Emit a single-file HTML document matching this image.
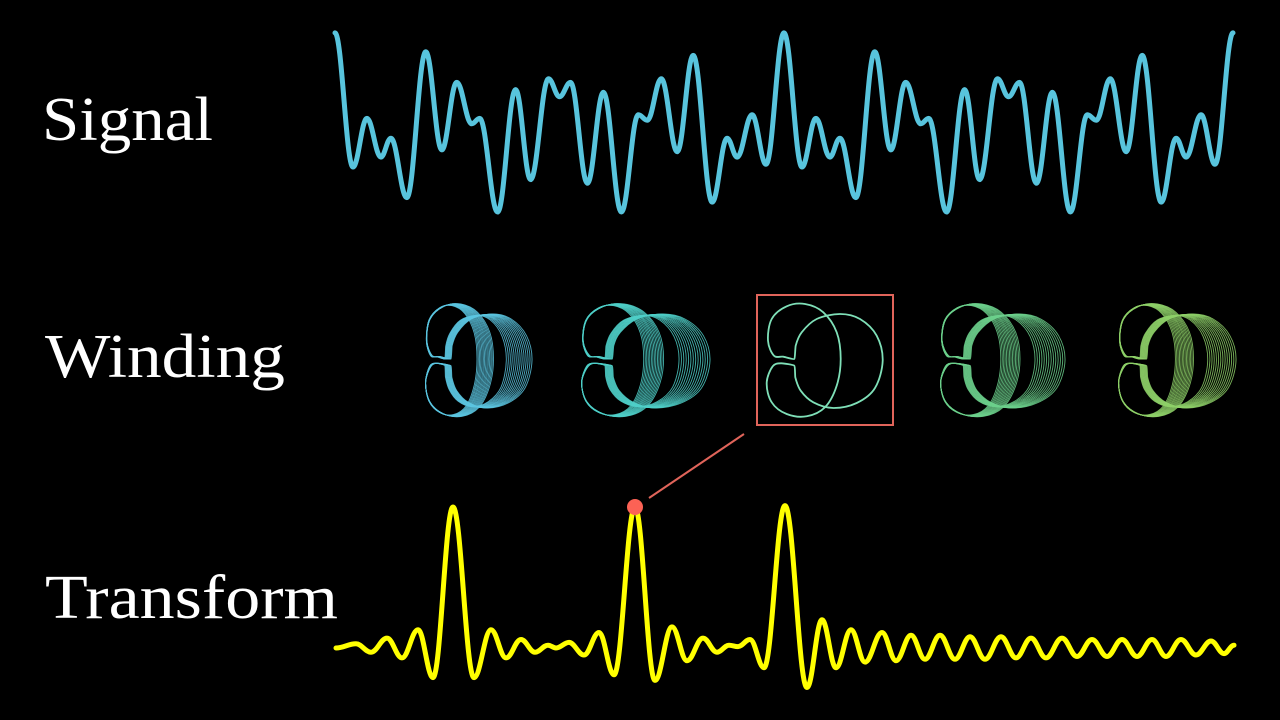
<!DOCTYPE html>
<html><head><meta charset="utf-8"><style>
html,body{margin:0;padding:0;background:#000;}
svg{display:block;}
text{font-family:"Liberation Serif",serif;fill:#fff;}
</style></head><body>
<svg id="chart" width="1280" height="720" viewBox="0 0 1280 720">
<rect width="1280" height="720" fill="#000"/>
<text x="42" y="140" font-size="62" textLength="171" lengthAdjust="spacingAndGlyphs">Signal</text>
<text x="45" y="377" font-size="62" textLength="240" lengthAdjust="spacingAndGlyphs">Winding</text>
<text x="45" y="618" font-size="62" textLength="293" lengthAdjust="spacingAndGlyphs">Transform</text>
<g id="windings"></g>
<rect x="757" y="295" width="136" height="130" fill="none" stroke="#e0645a" stroke-width="2"/>
<path id="sig" fill="none" stroke="#58C4DD" stroke-width="5" stroke-linecap="round" stroke-linejoin="round"/>
<path id="tr" fill="none" stroke="#FFFF00" stroke-width="5" stroke-linecap="round" stroke-linejoin="round"/>
<line id="link" stroke="#e0645a" stroke-width="2"/>
<circle id="dot" r="8" fill="#FC6255"/>
</svg>
<script>
// Signal extrema over one period (time units 0..450), values
const sigT = [0,18,32,46,56,72,91,107,122,137,145,163,181,196,214,225,236,253,269,287,304,313,327,343,359,378,393,403,418,432,450];
const sigV = [0.99,-0.5,0.04,-0.39,-0.18,-0.84,0.78,-0.31,0.44,-0.02,0.04,-1.0,0.36,-0.64,0.48,0.28,0.44,-0.68,0.33,-1.0,0.08,0.02,0.48,-0.33,0.74,-0.89,-0.18,-0.39,0.08,-0.47,0.99];
const sigPeriods = 2;
// Transform extrema: frequency, amplitude
const trF = [0,20,35,51,66,82,97,117,138,155,170,185,199,212,220,233,248,263,278,299,319,336,351,367,381,393,402,414,428,449,471,486,500,515,529,546,560,575,589,604,619,634,649,665,680,695,710,726,741,756,771,786,801,816,830,845,860,875,888,898];
const trA = [0,0.03,-0.03,0.07,-0.07,0.13,-0.21,1,-0.21,0.13,-0.07,0.06,-0.03,0.02,0,0.04,-0.05,0.11,-0.19,1,-0.23,0.15,-0.09,0.07,-0.03,0.02,0.01,0.06,-0.14,1.01,-0.28,0.2,-0.14,0.13,-0.1,0.11,-0.09,0.09,-0.08,0.09,-0.08,0.08,-0.08,0.08,-0.07,0.07,-0.07,0.07,-0.06,0.06,-0.06,0.06,-0.06,0.06,-0.06,0.06,-0.05,0.05,-0.04,0.02];
const selectedIndex = 19;
// Winding figures
const windNames = ['winding-freq-a','winding-freq-b','winding-freq-c','winding-freq-d','winding-freq-e'];
const windLeft = [425,581,766,940,1118];
const windWidth = [107,129,118,125,118];
const windColors = ['#5cc6e0','#4fcfc8','#7fe0b8','#6cd08c','#8ed068'];
const windCopies = [14,14,1,14,14];

const sx = t => 335 + t*(898/900);
const sy = v => 122 - v*90;
const fx = f => 336 + f;
const fy = a => 648 - a*141;

function smoothPath(xs, ys){
  let d = 'M'+xs[0].toFixed(1)+','+ys[0].toFixed(1);
  for(let i=1;i<xs.length;i++){
    const dx=(xs[i]-xs[i-1])/2.6;
    d+=' C'+(xs[i-1]+dx).toFixed(1)+','+ys[i-1].toFixed(1)+' '+(xs[i]-dx).toFixed(1)+','+ys[i].toFixed(1)+' '+xs[i].toFixed(1)+','+ys[i].toFixed(1);
  }
  return d;
}
let xs=[],ys=[];
for(let p=0;p<sigPeriods;p++){
  for(let i=(p?1:0);i<sigT.length;i++){xs.push(sx(sigT[i]+p*450));ys.push(sy(sigV[i]));}
}
document.getElementById('sig').setAttribute('d',smoothPath(xs,ys));
document.getElementById('tr').setAttribute('d',smoothPath(trF.map(fx),trA.map(fy)));
const dx=fx(trF[selectedIndex]), dy=fy(trA[selectedIndex]);
const dot=document.getElementById('dot');
dot.setAttribute('cx',dx);dot.setAttribute('cy',dy);
const ln=document.getElementById('link');
ln.setAttribute('x1',dx+14);ln.setAttribute('y1',dy-9);ln.setAttribute('x2',744);ln.setAttribute('y2',434);

// base winding shape outline (local units, 3x of px)
const shp = [[113,190],[80,183],[52,180],[34,135],[45,70],[90,32],[145,25],[200,50],[240,110],[252,190],[240,270],[205,335],[150,362],[90,355],[45,320],[30,262],[48,212],[75,203],[113,210],[116,245],[132,285],[170,320],[230,337],[300,322],[355,277],[378,195],[360,120],[310,70],[250,55],[180,70],[135,110],[117,150]];
const sMinX=28, sW=350, sMidY=193;
function shapePath(L, cy, kx, ky){
  const P = shp.map(p=>[L+(p[0]-sMinX)/3*kx, cy+(p[1]-sMidY)/3*ky]);
  const n=P.length; let d='M'+P[0][0].toFixed(1)+','+P[0][1].toFixed(1);
  for(let i=0;i<n;i++){
    const p0=P[(i-1+n)%n],p1=P[i],p2=P[(i+1)%n],p3=P[(i+2)%n];
    const t = (i===0||i===n-1||i===17||i===18)?0.06:1/6;
    d+=' C'+(p1[0]+(p2[0]-p0[0])*t).toFixed(1)+','+(p1[1]+(p2[1]-p0[1])*t).toFixed(1)+' '+(p2[0]-(p3[0]-p1[0])*t).toFixed(1)+','+(p2[1]-(p3[1]-p1[1])*t).toFixed(1)+' '+p2[0].toFixed(1)+','+p2[1].toFixed(1);
  }
  return d;
}
const NS='http://www.w3.org/2000/svg';
const g=document.getElementById('windings');
for(let k=0;k<windNames.length;k++){
  const grp=document.createElementNS(NS,'g');
  
  
  const n=windCopies[k];
  const kMax = windWidth[k]/(sW/3);
  for(let c=0;c<n;c++){
    let kx, ky;
    if(n===1){ kx=1; ky=1; }
    else { const f=c/(n-1); kx=kMax*(0.76+0.24*f); ky=0.97+0.03*f; }
    const p=document.createElementNS(NS,'path');
    
    
    p.setAttribute('d',shapePath(windLeft[k],360,kx,ky));
    p.setAttribute('fill','none');
    p.setAttribute('stroke',windColors[k]);
    p.setAttribute('stroke-width',n>1?'0.9':'1.8');
    p.setAttribute('opacity',n>1?'0.85':'1');
    grp.appendChild(p);
  }
  g.appendChild(grp);
}
</script>
</body></html>
